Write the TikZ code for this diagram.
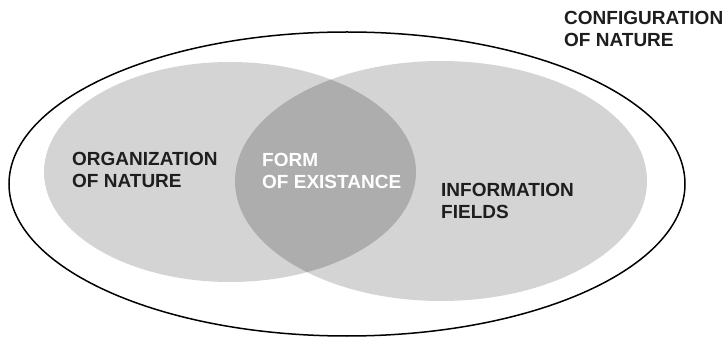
\documentclass[tikz,border=0pt]{standalone}
\usepackage{fontspec}
\setmainfont{Liberation Sans}
\usetikzlibrary{positioning}
\definecolor{setgray}{HTML}{D4D4D4}
\definecolor{lensgray}{HTML}{ADADAD}
\definecolor{inkdark}{HTML}{1E1E1E}
\tikzset{
  setfill/.style={fill=setgray},
  lensfill/.style={fill=lensgray},
  universe/.style={
    draw=black,
    line width=1.5pt
  },
  settext/.style={
    align=left,
    anchor=west,
    inner sep=0pt,
    text=inkdark,
    font=\bfseries\fontsize{19}{22}\selectfont
  },
  lenstext/.style={settext, text=white}
}

\begin{document}
\begin{tikzpicture}[x=1pt,y=-1pt]
  \useasboundingbox (0,0) rectangle (726,339);
  \coordinate (orgc) at (230,172);
  \coordinate (infoc) at (441,181);
  \coordinate (confc) at (347,184);

  % the two sets and their overlap
  \fill[setfill] (orgc) ellipse [x radius=186, y radius=110];
  \fill[setfill] (infoc) ellipse [x radius=206, y radius=120];
  \begin{scope}
    \clip (orgc) ellipse [x radius=186, y radius=110];
    \fill[lensfill] (infoc) ellipse [x radius=206, y radius=120];
  \end{scope}
  \draw[universe] (confc) ellipse [x radius=338, y radius=152];

  \node[settext] (org) at (72,170) {ORGANIZATION\\OF NATURE};
  \node[lenstext] (form) at (262,170.5) {FORM\\OF EXISTANCE};
  \node[settext] (info) at (441,201) {INFORMATION\\FIELDS};
  \node[settext] (conf) at (564,28.5) {CONFIGURATION\\OF NATURE};
\end{tikzpicture}
\end{document}
